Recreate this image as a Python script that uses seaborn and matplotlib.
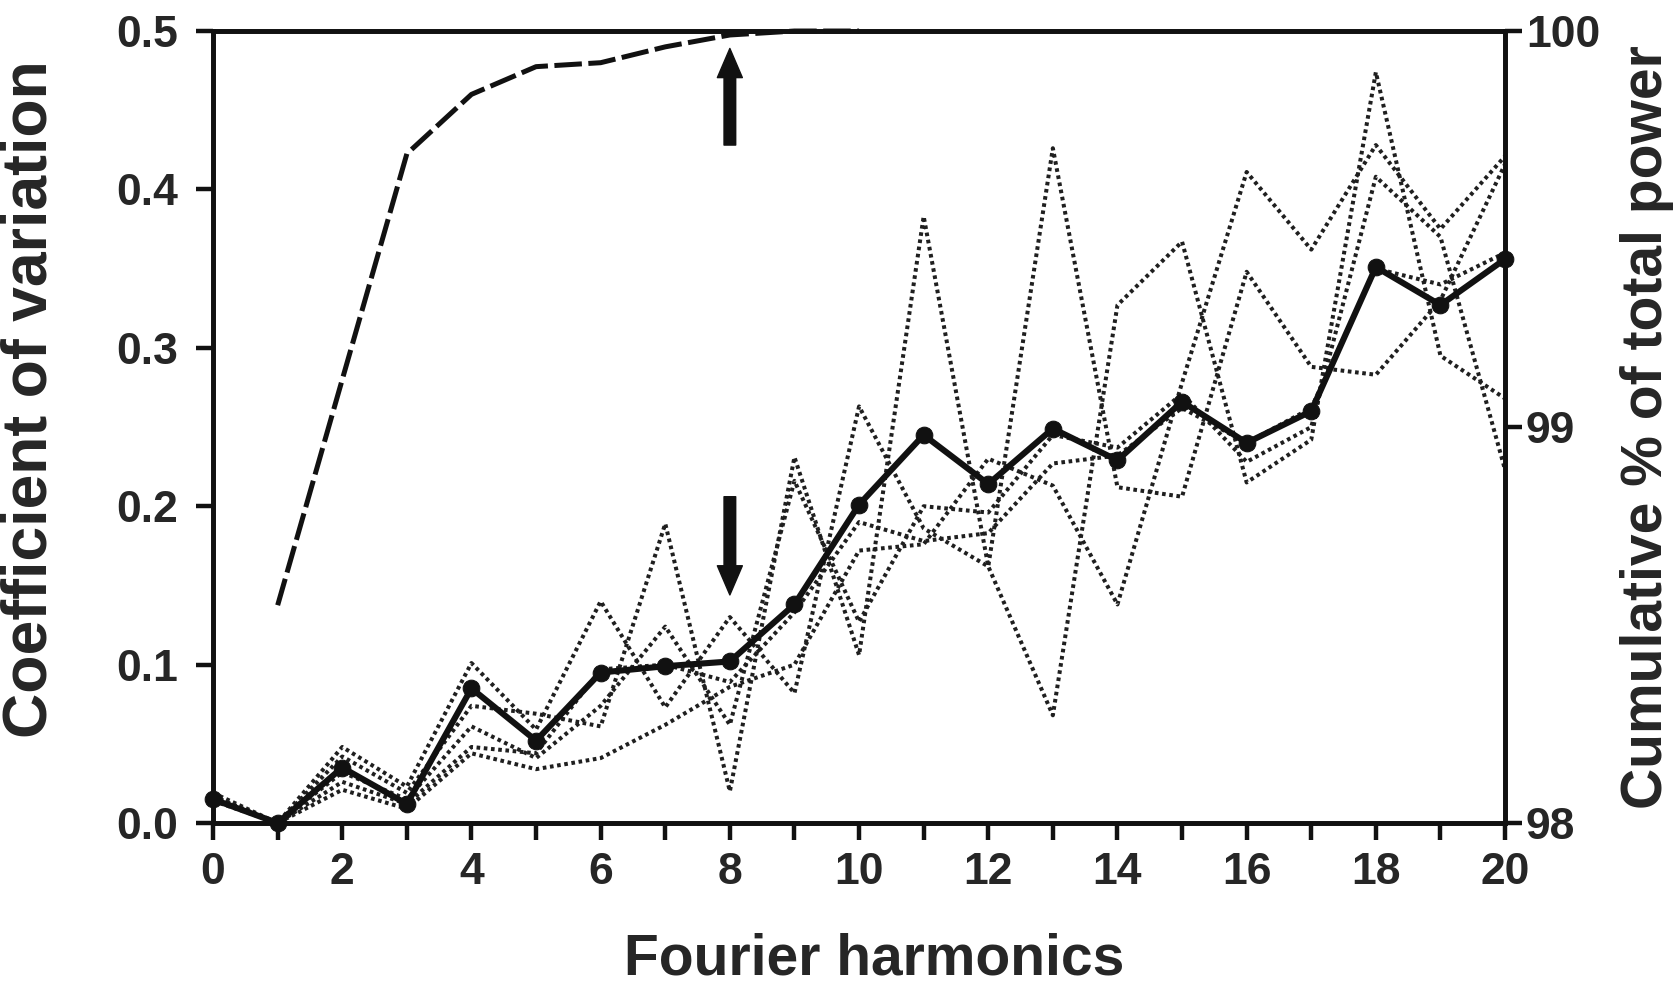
import numpy as np
import pandas as pd
import matplotlib
matplotlib.use("Agg")
import matplotlib.pyplot as plt
import seaborn as sns

harmonics = list(range(21))

# mean coefficient of variation (solid line with dots)
cv_mean = [0.015, 0.0, 0.035, 0.012, 0.085, 0.052, 0.095, 0.099, 0.102, 0.138, 0.201,
           0.245, 0.214, 0.249, 0.229, 0.266, 0.240, 0.260, 0.351, 0.327, 0.356]

# individual traces (dotted)
cv_a = [0.017, 0.0, 0.048, 0.023, 0.101, 0.059, 0.140, 0.073, 0.130, 0.082, 0.263,
        0.186, 0.162, 0.068, 0.327, 0.367, 0.215, 0.242, 0.474, 0.295, 0.268]
cv_b = [0.015, 0.0, 0.042, 0.019, 0.074, 0.069, 0.061, 0.189, 0.020, 0.231, 0.106,
        0.383, 0.162, 0.426, 0.212, 0.206, 0.348, 0.288, 0.283, 0.330, 0.416]
cv_c = [0.016, 0.0, 0.032, 0.015, 0.061, 0.041, 0.074, 0.124, 0.062, 0.216, 0.127,
        0.200, 0.196, 0.245, 0.237, 0.271, 0.228, 0.250, 0.408, 0.370, 0.223]
cv_d = [0.014, 0.0, 0.026, 0.012, 0.048, 0.044, 0.097, 0.100, 0.089, 0.133, 0.190,
        0.178, 0.183, 0.227, 0.232, 0.262, 0.240, 0.262, 0.350, 0.340, 0.360]
cv_e = [0.019, 0.0, 0.021, 0.009, 0.044, 0.034, 0.041, 0.062, 0.086, 0.100, 0.172,
        0.176, 0.230, 0.213, 0.138, 0.278, 0.411, 0.362, 0.428, 0.375, 0.421]

# cumulative % of total power (dashed, right axis)
cum_x = [1, 2, 3, 4, 5, 6, 7, 8, 9, 10]
cum_power = [98.55, 99.12, 99.69, 99.84, 99.91, 99.92, 99.96, 99.99, 100.0, 100.0]

sns.set_style("ticks")
plt.rcParams['font.family'] = ['Liberation Sans', 'DejaVu Sans']
plt.rcParams['font.weight'] = 'bold'

traces = pd.DataFrame({
    "harmonic": harmonics * 5,
    "cv": cv_a + cv_b + cv_c + cv_d + cv_e,
    "trace": sum([[k] * 21 for k in "abcde"], []),
})

fig = plt.figure(figsize=(16.79, 9.91), dpi=100)
ax = fig.add_axes([0.1269, 0.1695, 0.7695, 0.7992])

sns.lineplot(data=traces, x="harmonic", y="cv", units="trace", estimator=None,
             color="#1f1f1f", lw=2.9, linestyle=(0, (0.9, 0.9)), ax=ax, clip_on=False)
sns.lineplot(x=harmonics, y=cv_mean, color="#111111", lw=4.4, marker="o",
             markersize=12, markeredgecolor="#111111", ax=ax, clip_on=False, zorder=5)

ax.set_xlim(0, 20)
ax.set_ylim(0, 0.5)
ax.set_xticks(range(21))
ax.set_xticklabels([str(i) if i % 2 == 0 else "" for i in range(21)])
ax.set_yticks(np.arange(0, 0.51, 0.1))
ax.set_yticklabels([f"{v:.1f}" for v in np.arange(0, 0.51, 0.1)])

ax2 = ax.twinx()
sns.lineplot(x=cum_x, y=cum_power, color="#111111", lw=3.6,
             linestyle=(0, (5.5, 1.3)), ax=ax2, clip_on=False)
ax2.set_ylim(98, 100)
ax2.set_yticks([98, 99, 100])
ax2.set_yticklabels(["98", "99", "100"])

for a in (ax, ax2):
    for s in a.spines.values():
        s.set_linewidth(3.4)
        s.set_color("#111111")
    a.tick_params(length=12, width=3.2, color="#111111", labelsize=32, pad=7)
ax.tick_params(axis="x", pad=9)
ax.tick_params(axis="y", pad=13)
ax2.tick_params(axis="y", pad=3)

# arrows at harmonic 8
arrow = dict(arrowstyle="simple,head_length=0.7,head_width=0.6,tail_width=0.28",
             color="#111111", shrinkA=0, shrinkB=0, mutation_scale=30)
ax.annotate("", xy=(8, 0.489), xytext=(8, 0.428), arrowprops=arrow)
ax.annotate("", xy=(8, 0.144), xytext=(8, 0.206), arrowprops=arrow)

ax.set_xlabel("Fourier harmonics", fontsize=41, fontweight="bold")
ax.xaxis.set_label_coords(0.512, -0.138)
ax.set_ylabel("Coefficient of variation", fontsize=45, fontweight="bold")
ax.yaxis.set_label_coords(-0.119, 0.535)
ax2.set_ylabel("Cumulative % of total power", fontsize=41, fontweight="bold", labelpad=14)

fig.savefig("out.png", dpi=100)
